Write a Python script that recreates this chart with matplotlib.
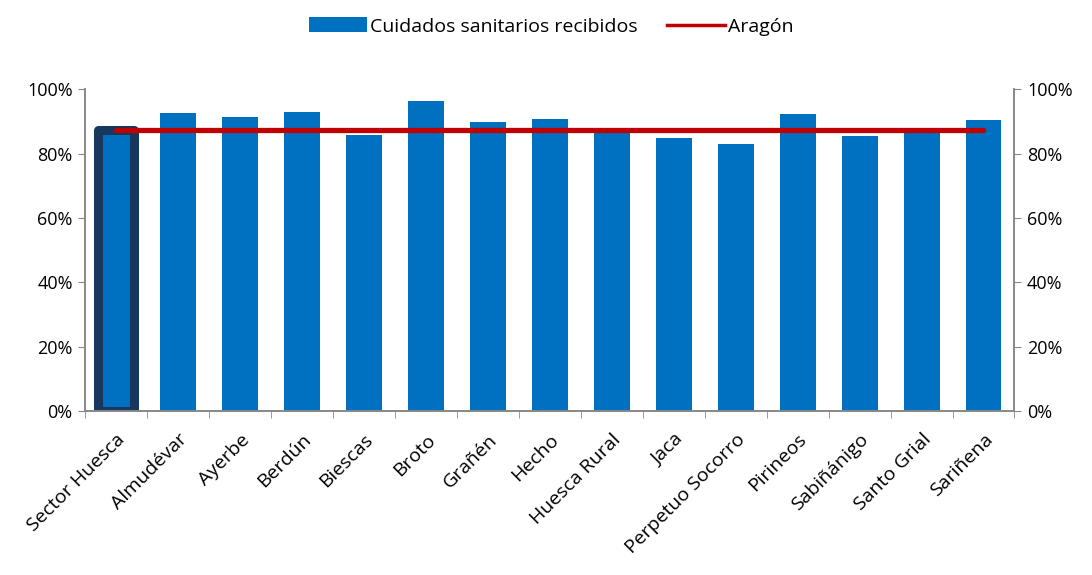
import numpy as np
import matplotlib.pyplot as plt
from matplotlib.ticker import FuncFormatter, FixedLocator
from matplotlib.patches import Patch
from matplotlib.lines import Line2D

zonas = ["Sector Huesca", "Almudévar", "Ayerbe", "Berdún", "Biescas", "Broto",
         "Grañén", "Hecho", "Huesca Rural", "Jaca", "Perpetuo Socorro",
         "Pirineos", "Sabiñánigo", "Santo Grial", "Sariñena"]
cuidados = [87.3, 92.5, 91.3, 93.0, 85.7, 96.4, 89.7, 90.7, 87.8, 84.7, 83.0,
            92.4, 85.3, 87.6, 90.3]
aragon = [87.4] * len(zonas)

plt.rcParams['font.family'] = ['Open Sans', 'DejaVu Sans']
azul = "#0070C0"
rojo = "#C00000"
gris = "#888888"

fig = plt.figure(figsize=(10.92, 5.75), dpi=100)
ax = fig.add_axes([0.078, 0.285, 0.851, 0.56])
x = np.arange(len(zonas))

bars = ax.bar(x, cuidados, width=0.58, color=azul, zorder=2)
# resaltar el sector
bars[0].set_edgecolor("#17375E")
bars[0].set_linewidth(6.5)
bars[0].set_joinstyle("round")
ax.plot(x, aragon, color=rojo, lw=3.8, zorder=3, solid_capstyle="round")

ax.set_xlim(-0.5, len(zonas) - 0.5)
ax.set_ylim(0, 100)
ax.set_yticks(np.arange(0, 101, 20))
pct = FuncFormatter(lambda v, p: f"{v:.0f}%")
ax.yaxis.set_major_formatter(pct)

ax.set_xticks(x)
ax.set_xticklabels(zonas, rotation=45, ha="right", rotation_mode="anchor",
                   fontsize=14)
ax.tick_params(axis="x", length=0, pad=14)
ax.xaxis.set_minor_locator(FixedLocator(np.arange(-0.5, len(zonas), 1)))
ax.tick_params(axis="x", which="minor", length=5, color=gris)
ax.tick_params(axis="y", labelsize=13, length=5, color=gris, pad=4)

ax2 = ax.twinx()
ax2.set_ylim(0, 100)
ax2.set_yticks(np.arange(0, 101, 20))
ax2.yaxis.set_major_formatter(pct)
ax2.tick_params(axis="y", labelsize=13, length=5, color=gris, pad=4)

for a in (ax, ax2):
    a.spines["top"].set_visible(False)
    for s in ("left", "right", "bottom"):
        a.spines[s].set_color(gris)
        a.spines[s].set_linewidth(1.2)

handles = [Patch(facecolor=azul), Line2D([], [], color=rojo, lw=2.5)]
fig.legend(handles, ["Cuidados sanitarios recibidos", "Aragón"],
           loc="upper center", bbox_to_anchor=(0.505, 1.0), ncol=2,
           frameon=False, fontsize=14, handlelength=3.0, handleheight=0.8,
           columnspacing=1.5, handletextpad=0.15)

fig.savefig("out.png", dpi=100)
